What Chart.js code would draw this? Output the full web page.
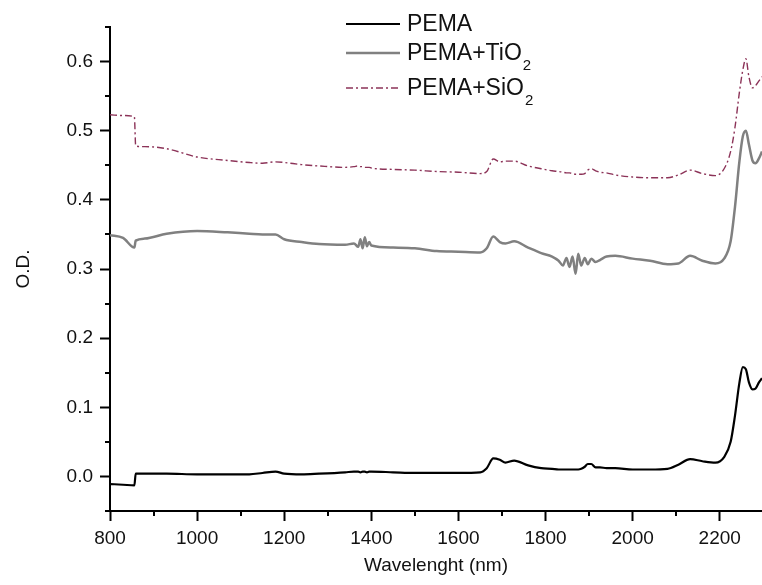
<!DOCTYPE html>
<html>
<head>
<meta charset="utf-8">
<title>O.D. vs wavelength</title>
<script src="https://cdn.jsdelivr.net/npm/chart.js@4.4.1/dist/chart.umd.min.js"></script>
<style>
  html, body { margin: 0; padding: 0; background: #fff; }
  #wrap { width: 762px; height: 585px; position: relative; }
</style>
</head>
<body>
<div id="wrap"><canvas id="odChart"></canvas></div>
<script>
// wavelengths (nm), shared by the three curves
const wavelengths = [
  800, 830, 856, 859, 880, 930, 1000, 1070, 1120, 1150, 1180, 1200, 1240, 1280,
  1340, 1360, 1370, 1375, 1380, 1385, 1390, 1395, 1400, 1450, 1500, 1550, 1600,
  1650, 1665, 1680, 1695, 1708, 1728, 1760, 1790, 1815, 1830, 1840, 1848, 1855,
  1862, 1869, 1875, 1882, 1890, 1897, 1905, 1915, 1925, 1940, 1960, 2000, 2040,
  2080, 2105, 2132, 2160, 2190, 2210, 2225, 2235, 2245, 2253, 2260, 2267, 2275,
  2282, 2290, 2297
];

const pema = [
  -0.011, -0.012, -0.013, 0.004, 0.004, 0.004, 0.003, 0.003, 0.003, 0.005, 0.007, 0.004, 0.003, 0.004,
  0.006, 0.007, 0.007, 0.006, 0.007, 0.007, 0.006, 0.007, 0.007, 0.006, 0.005, 0.005, 0.005,
  0.006, 0.012, 0.026, 0.024, 0.020, 0.023, 0.016, 0.012, 0.011, 0.010, 0.010, 0.010, 0.010,
  0.010, 0.010, 0.010, 0.011, 0.014, 0.018, 0.018, 0.013, 0.013, 0.012, 0.012, 0.010, 0.010,
  0.011, 0.017, 0.025, 0.022, 0.020, 0.028, 0.050, 0.088, 0.135, 0.158, 0.155, 0.136, 0.126,
  0.127, 0.136, 0.142
];

const pemaTiO2 = [
  0.349, 0.345, 0.331, 0.341, 0.344, 0.351, 0.355, 0.353, 0.351, 0.350, 0.350, 0.343, 0.339, 0.336,
  0.335, 0.337, 0.332, 0.343, 0.330, 0.346, 0.333, 0.339, 0.334, 0.331, 0.330, 0.326, 0.325,
  0.324, 0.330, 0.347, 0.339, 0.337, 0.340, 0.331, 0.323, 0.318, 0.312, 0.305, 0.316, 0.303,
  0.318, 0.293, 0.322, 0.305, 0.316, 0.307, 0.315, 0.310, 0.313, 0.318, 0.319, 0.315, 0.312,
  0.307, 0.308, 0.319, 0.312, 0.308, 0.315, 0.340, 0.390, 0.455, 0.492, 0.500, 0.480, 0.457,
  0.453, 0.460, 0.470
];

const pemaSiO2 = [
  0.523, 0.522, 0.520, 0.478, 0.477, 0.474, 0.462, 0.457, 0.454, 0.453, 0.455, 0.454, 0.451, 0.449,
  0.447, 0.448, 0.449, 0.448, 0.448, 0.447, 0.447, 0.447, 0.446, 0.444, 0.443, 0.441, 0.440,
  0.438, 0.441, 0.459, 0.455, 0.456, 0.456, 0.449, 0.445, 0.442, 0.441, 0.440, 0.439, 0.439,
  0.438, 0.437, 0.437, 0.437, 0.438, 0.443, 0.445, 0.442, 0.440, 0.439, 0.436, 0.433, 0.432,
  0.432, 0.436, 0.443, 0.438, 0.435, 0.445, 0.470, 0.505, 0.555, 0.588, 0.604, 0.578, 0.562,
  0.565, 0.572, 0.578
];

// axis ticks
const xTicks = [800, 1000, 1200, 1400, 1600, 1800, 2000, 2200];
const xMinorTicks = [900, 1100, 1300, 1500, 1700, 1900, 2100];
const yTicks = [0.0, 0.1, 0.2, 0.3, 0.4, 0.5, 0.6];
const yMinorTicks = [-0.05, 0.05, 0.15, 0.25, 0.35, 0.45, 0.55, 0.65];

const FONT = "'Liberation Sans', Arial, sans-serif";

function toPoints(ys) {
  return wavelengths.map((w, i) => ({ x: w, y: ys[i] }));
}

// half-length ticks between the labelled ones
const minorTicks = {
  id: "minorTicks",
  afterDraw(chart) {
    const c = chart.ctx;
    const xs = chart.scales.x;
    const ys = chart.scales.y;
    const area = chart.chartArea;
    c.save();
    c.strokeStyle = "#000";
    c.lineWidth = 2;
    xMinorTicks.forEach((v) => {
      const px = Math.round(xs.getPixelForValue(v));
      c.beginPath();
      c.moveTo(px, area.bottom);
      c.lineTo(px, area.bottom + 5);
      c.stroke();
    });
    yMinorTicks.forEach((v) => {
      const py = Math.round(ys.getPixelForValue(v));
      c.beginPath();
      c.moveTo(area.left, py);
      c.lineTo(area.left - 5, py);
      c.stroke();
    });
    c.restore();
  },
};

// legend with subscripts
const subLegend = {
  id: "subLegend",
  afterDraw(chart) {
    const c = chart.ctx;
    const rows = [
      { ds: 0, y: 24, main: "PEMA", sub: "" },
      { ds: 1, y: 53, main: "PEMA+TiO", sub: "2" },
      { ds: 2, y: 88, main: "PEMA+SiO", sub: "2" },
    ];
    c.save();
    rows.forEach((r) => {
      const ds = chart.data.datasets[r.ds];
      c.strokeStyle = ds.borderColor;
      c.lineWidth = ds.borderWidth;
      c.setLineDash(ds.borderDash || []);
      c.beginPath();
      c.moveTo(346, r.y);
      c.lineTo(400, r.y);
      c.stroke();
      c.setLineDash([]);
      c.fillStyle = "#111";
      c.textBaseline = "middle";
      c.font = "23px " + FONT;
      c.fillText(r.main, 407, r.y + 1);
      if (r.sub) {
        const w = c.measureText(r.main).width;
        c.font = "15px " + FONT;
        c.fillText(r.sub, 407 + w + 1, r.y + 13);
      }
    });
    c.restore();
  },
};

const ctx = document.getElementById("odChart").getContext("2d");
new Chart(ctx, {
  type: "line",
  data: {
    datasets: [
      {
        label: "PEMA",
        data: toPoints(pema),
        borderColor: "#000000",
        borderWidth: 2.2,
        pointRadius: 0,
        cubicInterpolationMode: "monotone",
      },
      {
        label: "PEMA+TiO2",
        data: toPoints(pemaTiO2),
        borderColor: "#808080",
        borderWidth: 2.5,
        pointRadius: 0,
        cubicInterpolationMode: "monotone",
      },
      {
        label: "PEMA+SiO2",
        data: toPoints(pemaSiO2),
        borderColor: "#8c3358",
        borderWidth: 1.4,
        borderDash: [7, 3, 2, 3],
        pointRadius: 0,
        cubicInterpolationMode: "monotone",
      },
    ],
  },
  options: {
    responsive: true,
    maintainAspectRatio: false,
    animation: false,
    events: [],
    layout: { padding: { top: 27, right: 0, left: 0, bottom: 0 } },
    plugins: { legend: { display: false }, tooltip: { enabled: false } },
    scales: {
      x: {
        type: "linear",
        min: 800,
        max: 2297,
        afterBuildTicks: (s) => { s.ticks = xTicks.map((v) => ({ value: v })); },
        afterFit: (s) => { s.height = 74; },
        grid: { drawOnChartArea: false, tickLength: 10, tickColor: "#000", tickWidth: 2 },
        border: { display: true, color: "#000", width: 2 },
        ticks: { color: "#111", font: { family: FONT, size: 19 }, padding: 6, maxRotation: 0, autoSkip: false, callback: (v) => String(v) },
        title: { display: true, text: "Wavelenght (nm)", color: "#111", font: { family: FONT, size: 19 }, padding: { top: 0, bottom: 8 } },
      },
      y: {
        type: "linear",
        min: -0.05,
        max: 0.65,
        afterBuildTicks: (s) => { s.ticks = yTicks.map((v) => ({ value: v })); },
        afterFit: (s) => { s.width = 110; },
        grid: { drawOnChartArea: false, tickLength: 10, tickColor: "#000", tickWidth: 2 },
        border: { display: true, color: "#000", width: 2 },
        ticks: { color: "#111", font: { family: FONT, size: 19 }, padding: 7, callback: (v) => v.toFixed(1) },
        title: { display: true, text: "O.D.", color: "#111", font: { family: FONT, size: 19 }, padding: { top: 12, bottom: 0 } },
      },
    },
  },
  plugins: [minorTicks, subLegend],
});
</script>
</body>
</html>
